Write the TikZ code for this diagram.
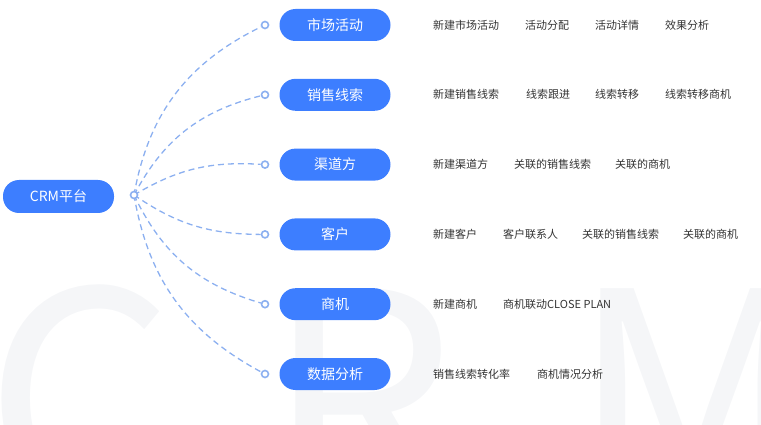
\documentclass[tikz,border=0pt]{standalone}
\usepackage{fontspec}
\setmainfont{Noto Sans CJK SC}
\definecolor{pillblue}{RGB}{61,126,255}
\definecolor{linkblue}{RGB}{140,176,240}
\definecolor{itemgray}{RGB}{51,51,51}
\definecolor{wmark}{RGB}{245,246,248}
\begin{document}
\begin{tikzpicture}[x=1pt,y=-1pt,
  pill/.style={fill=pillblue, rounded corners=16pt, minimum width=111pt, minimum height=32pt, text=white, font=\fontsize{14}{14}\selectfont, inner sep=0pt},
  item/.style={anchor=west, inner sep=0pt, text=itemgray, font=\fontsize{11}{11}\selectfont},
  dot/.style={circle, draw=linkblue, line width=1.6pt, fill=white, minimum size=7pt, inner sep=0pt},
  link/.style={draw=linkblue, line width=1.3pt, dash pattern=on 6pt off 4pt},
  wm/.style={anchor=base west, inner sep=0pt, text=wmark, font=\fontsize{300}{300}\selectfont}]
\useasboundingbox (0,0) rectangle (761,425);
\clip (0,0) rectangle (761,425);
% watermark
\node[wm] (wc) at (-16,508) {C};
\node[wm] (wr) at (265,508) {R};
\node[wm] (wmm) at (570,508) {M};
% root
\node[pill, minimum height=33pt] (root) at (58.5,196.5) {CRM平台};
% categories
\node[pill] (c1) at (335,25) {市场活动};
\node[pill] (c2) at (335,94.8) {销售线索};
\node[pill] (c3) at (335,164.6) {渠道方};
\node[pill] (c4) at (335,234.4) {客户};
\node[pill] (c5) at (335,304.2) {商机};
\node[pill] (c6) at (335,374) {数据分析};
% links
\coordinate (hubc) at (134,195);
\node[dot] (d1) at (265,25) {};
\node[dot] (d2) at (265,94.8) {};
\node[dot] (d3) at (265,164.6) {};
\node[dot] (d4) at (265,234.4) {};
\node[dot] (d5) at (265,304.2) {};
\node[dot] (d6) at (265,374) {};
\draw[link] (hubc) to[bend left=27] (d1);
\draw[link] (hubc) to[bend left=24] (d2);
\draw[link] (hubc) to[bend left=17] (d3);
\draw[link] (hubc) to[bend right=17] (d4);
\draw[link] (hubc) to[bend right=24] (d5);
\draw[link] (hubc) to[bend right=26] (d6);
\node[dot] (hub) at (hubc) {};
% items
\node[item] (i11) at (433,25) {新建市场活动};
\node[item] (i12) at (525,25) {活动分配};
\node[item] (i13) at (595,25) {活动详情};
\node[item] (i14) at (665,25) {效果分析};
\node[item] (i21) at (433,94.8) {新建销售线索};
\node[item] (i22) at (526,94.8) {线索跟进};
\node[item] (i23) at (595,94.8) {线索转移};
\node[item] (i24) at (665,94.8) {线索转移商机};
\node[item] (i31) at (433,164.6) {新建渠道方};
\node[item] (i32) at (514,164.6) {关联的销售线索};
\node[item] (i33) at (615,164.6) {关联的商机};
\node[item] (i41) at (433,234.4) {新建客户};
\node[item] (i42) at (503,234.4) {客户联系人};
\node[item] (i43) at (582,234.4) {关联的销售线索};
\node[item] (i44) at (683,234.4) {关联的商机};
\node[item] (i51) at (433,304.2) {新建商机};
\node[item] (i52) at (503,304.2) {商机联动CLOSE PLAN};
\node[item] (i61) at (433,374) {销售线索转化率};
\node[item] (i62) at (537,374) {商机情况分析};
\end{tikzpicture}
\end{document}
